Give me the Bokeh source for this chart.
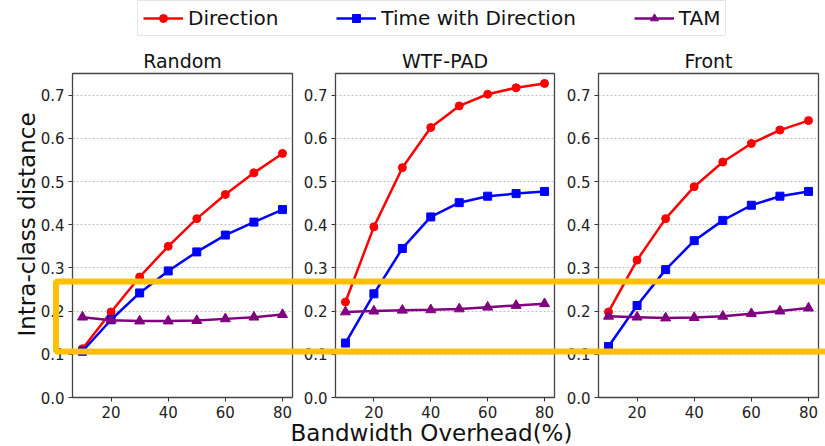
import math
from bokeh.plotting import figure
from bokeh.models import (Range1d, FixedTicker, PrintfTickFormatter, Legend, LegendItem,
                          BoxAnnotation, Label, GridBox)
from bokeh.layouts import column, row
from bokeh.embed import file_html
from bokeh.resources import INLINE

# ---------------- data ----------------
overhead = [10, 20, 30, 40, 50, 60, 70, 80]
panel_titles = ["Random", "WTF-PAD", "Front"]
series_names = ["Direction", "Time with Direction", "TAM"]

random_direction = [0.113, 0.198, 0.279, 0.350, 0.414, 0.470, 0.520, 0.565]
random_time_dir = [0.107, 0.180, 0.242, 0.293, 0.337, 0.376, 0.406, 0.435]
random_tam = [0.186, 0.179, 0.177, 0.177, 0.178, 0.182, 0.186, 0.192]

wtfpad_direction = [0.221, 0.395, 0.532, 0.625, 0.675, 0.702, 0.717, 0.727]
wtfpad_time_dir = [0.126, 0.240, 0.345, 0.418, 0.451, 0.466, 0.472, 0.477]
wtfpad_tam = [0.198, 0.200, 0.202, 0.203, 0.205, 0.209, 0.213, 0.217]

front_direction = [0.198, 0.318, 0.414, 0.488, 0.545, 0.588, 0.619, 0.641]
front_time_dir = [0.118, 0.213, 0.296, 0.363, 0.410, 0.445, 0.466, 0.477]
front_tam = [0.188, 0.186, 0.184, 0.185, 0.188, 0.194, 0.200, 0.207]

x_ticks = [20, 40, 60, 80]
y_ticks = [0.0, 0.1, 0.2, 0.3, 0.4, 0.5, 0.6, 0.7]
y_label = "Intra-class distance"
x_label = "Bandwidth Overhead(%)"

# ---------------- style ----------------
FONT = "DejaVu Sans"
colors = ["#ff0000", "#0000ff", "#800080"]
markers = ["circle", "square", "triangle"]
marker_sizes = [8, 8, 10]
HIGHLIGHT = "#FFC000"
W, H = 825, 446

panel_data = [
    (random_direction, random_time_dir, random_tam),
    (wtfpad_direction, wtfpad_time_dir, wtfpad_tam),
    (front_direction, front_time_dir, front_tam),
]
panel_geom = [  # (width, min_border_left, min_border_right)
    (300, 72, 8),
    (262, 35, 8),
    (263, 36, 7),
]


def make_panel(idx):
    width, bl, br = panel_geom[idx]
    p = figure(width=width, height=404, x_range=Range1d(6.5, 83.5), y_range=Range1d(0, 0.75),
               output_backend="svg", toolbar_location=None, title=panel_titles[idx],
               min_border_left=bl, min_border_right=br, min_border_top=31, min_border_bottom=49)
    p.title.text_font = FONT
    p.title.text_font_size = "19px"
    p.title.text_font_style = "normal"
    p.title.text_color = "#111111"
    p.title.align = "center"
    p.title.standoff = 4

    p.xaxis.ticker = FixedTicker(ticks=x_ticks)
    p.yaxis.ticker = FixedTicker(ticks=y_ticks)
    p.yaxis.formatter = PrintfTickFormatter(format="%.1f")
    for ax in (p.xaxis, p.yaxis):
        ax.axis_line_color = None
        ax.major_tick_in = 0
        ax.major_tick_out = 4
        ax.major_tick_line_color = "#333333"
        ax.minor_tick_line_color = None
        ax.major_label_text_font = FONT
        ax.major_label_text_font_size = "15px"
        ax.major_label_text_color = "#222222"
        ax.major_label_standoff = 4

    p.xgrid.grid_line_color = None
    p.ygrid.grid_line_color = "#c0c0c0"
    p.ygrid.grid_line_dash = "2 2"
    p.ygrid.grid_line_width = 1
    p.outline_line_color = "#444444"
    p.outline_line_width = 1.3
    p.background_fill_color = "white"
    p.border_fill_color = "white"

    for ys, c, m, s in zip(panel_data[idx], colors, markers, marker_sizes):
        p.line(overhead, ys, line_color=c, line_width=2.5)
        p.scatter(overhead, ys, marker=m, size=s, fill_color=c, line_color=c)
    return p


panels = [make_panel(i) for i in range(3)]

# ---------------- legend strip ----------------
leg = figure(width=W, height=42, x_range=Range1d(1000, 1001), y_range=Range1d(1000, 1001),
             output_backend="svg", toolbar_location=None, min_border=0,
             x_axis_type=None, y_axis_type=None)
leg.grid.visible = False
leg.outline_line_color = None
items = []
for name, c, m, ys in zip(series_names, colors, markers, panel_data[0]):
    r1 = leg.line(overhead, ys, line_color=c, line_width=2.5)
    r2 = leg.scatter(overhead, ys, marker=m, size=8, fill_color=c, line_color=c)
    items.append(LegendItem(label=name, renderers=[r1, r2]))
legend = Legend(items=items, orientation="horizontal", location=(137, 6), margin=0,
                padding=5, spacing=58, glyph_width=40, glyph_height=20, label_standoff=5,
                label_text_font=FONT, label_text_font_size="20px", label_text_color="#111111",
                border_line_color="#cccccc", border_line_width=1, background_fill_alpha=1)
leg.add_layout(legend, "center")

main = column(leg, row(*panels))

# ---------------- transparent overlay: shared axis titles + highlight box ----------------
ov = figure(width=W, height=H, x_range=Range1d(0, W), y_range=Range1d(H, 0),
            output_backend="svg", toolbar_location=None, min_border=0,
            x_axis_type=None, y_axis_type=None,
            background_fill_color=None, border_fill_color=None)
ov.outline_line_color = None
ov.add_layout(Label(x=26, y=224, text=y_label, angle=math.pi / 2,
                    text_align="center", text_baseline="middle",
                    text_font=FONT, text_font_size="23px", text_color="#111111"))
ov.add_layout(Label(x=431, y=432, text=x_label,
                    text_align="center", text_baseline="middle",
                    text_font=FONT, text_font_size="23px", text_color="#111111"))
ov.add_layout(BoxAnnotation(left=55.5, right=W + 40, top=281, bottom=351,
                            fill_alpha=0, line_color=HIGHLIGHT, line_alpha=1.0,
                            line_width=6, level="overlay"))

layout = GridBox(children=[(main, 0, 0), (ov, 0, 0)])
open("out.html", "w").write(file_html(layout, INLINE))
